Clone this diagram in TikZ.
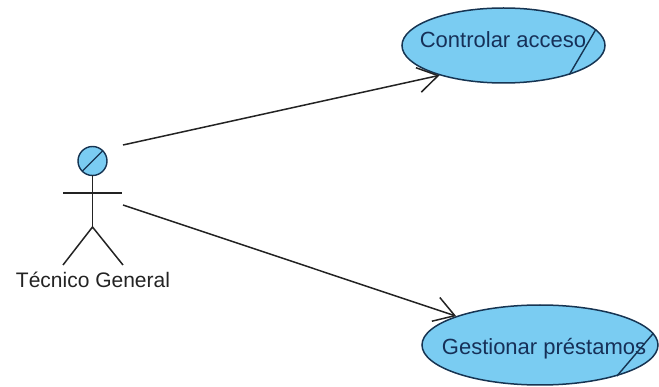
\documentclass[tikz,border=0pt]{standalone}
\usepackage{fontspec}
\setmainfont{Liberation Sans}
\usetikzlibrary{shapes.geometric,arrows.meta}
\definecolor{ucfill}{RGB}{122,204,242}
\definecolor{ucline}{RGB}{22,52,82}
\definecolor{uctext}{RGB}{22,48,88}
\definecolor{ink}{RGB}{35,35,35}
\begin{document}
\begin{tikzpicture}[x=1pt,y=-1pt,
  usecase/.style={ellipse,draw=ucline,fill=ucfill,line width=1.5pt,inner sep=0pt},
  uclabel/.style={anchor=base,text=uctext,font=\fontsize{22}{24}\selectfont,inner sep=0pt},
  actorlabel/.style={anchor=base,text=ink,font=\fontsize{21}{24}\selectfont,inner sep=0pt},
  actorline/.style={draw=ink,line width=1.5pt},
  slash/.style={draw=ucline,line width=1.4pt},
  assoc/.style={draw=ink,line width=1.5pt,-{Straight Barb[length=20pt,width=25pt]}}]
\useasboundingbox (0,0) rectangle (659,387);

% use cases
\node[usecase,minimum width=203,minimum height=75] (uc1) at (503.5,45.5) {};
\node[uclabel] (uc1t) at (503,48) {Controlar acceso};
\draw[slash] (uc1.10) -- (uc1.-24);

\node[usecase,minimum width=236,minimum height=80] (uc2) at (540,345) {};
\node[uclabel] (uc2t) at (544,355) {Gestionar préstamos};
\draw[slash] (uc2.6.5) -- (uc2.-22);

% actor
\node[circle,draw=ucline,fill=ucfill,line width=1.4pt,minimum size=29,inner sep=0pt,outer sep=0pt] (head) at (92.5,161) {};
\draw[slash] (head.225) -- (head.45);
\coordinate (hip) at (92.5,227);
\coordinate (armL) at (63,193);
\coordinate (armR) at (122,193);
\coordinate (legL) at (63,265);
\coordinate (legR) at (123,265);
\draw[actorline] (head.south) -- (hip);
\draw[actorline] (armL) -- (armR);
\draw[actorline] (legL) -- (hip) -- (legR);
\node[actorlabel] (actor) at (93,288) {Técnico General};

% associations
\coordinate (a1) at (123,145);
\coordinate (a2) at (123,205);
\draw[assoc] (a1) -- (uc1.205);
\draw[assoc] (a2) -- (uc2.161);
\end{tikzpicture}
\end{document}
